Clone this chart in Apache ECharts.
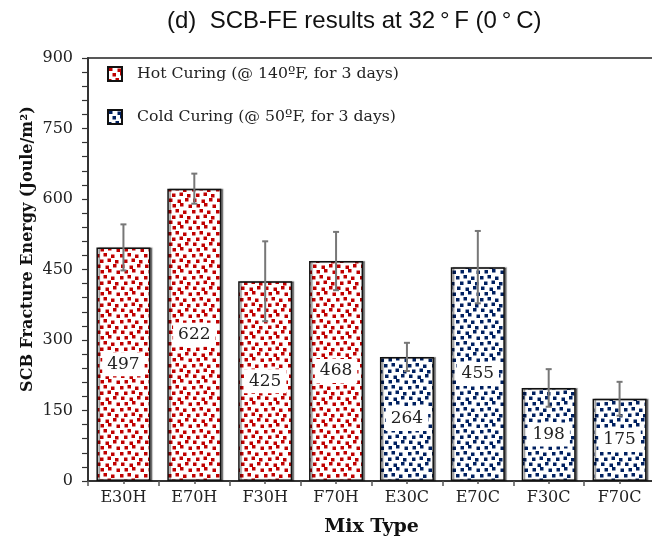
<!DOCTYPE html>
<html>
<head>
<meta charset="utf-8">
<script src="https://cdn.jsdelivr.net/npm/echarts@6/dist/echarts.min.js"></script>
<style>
  html, body { margin: 0; padding: 0; background: #fff; }
  #chart { width: 652px; height: 541px; }
</style>
</head>
<body>
<div id="chart"></div>
<script>
// Mix types and SCB fracture energy results (Joule/m²)
const mixTypes = ['E30H', 'E70H', 'F30H', 'F70H', 'E30C', 'E70C', 'F30C', 'F70C'];
const hotValues  = [497, 622, 425, 468, '-', '-', '-', '-'];
const coldValues = ['-', '-', '-', '-', 264, 455, 198, 175];
// Standard deviation shown as error bars
const errValues  = [49, 32, 85, 62, 30, 77, 40, 36];
const yTicks = { min: 0, max: 900, interval: 150 };
const hotName  = 'Hot Curing (@ 140ºF, for 3 days)';
const coldName = 'Cold Curing (@ 50ºF, for 3 days)';

const SERIF = '"DejaVu Serif", "Liberation Serif", serif';

// Confetti-style fill pattern: small jittered squares on white
function confetti(color) {
  const c = document.createElement('canvas');
  c.width = 24; c.height = 22;
  const ctx = c.getContext('2d');
  ctx.fillStyle = '#ffffff';
  ctx.fillRect(0, 0, 24, 22);
  ctx.fillStyle = color;
  const spots = [
    [1, 0.5], [9.5, 1.5], [17, 0],
    [4.5, 6], [12, 5], [20.5, 6.5],
    [0, 12], [7.5, 11], [15, 12.5],
    [4, 17.5], [11.5, 16.5], [19, 18]
  ];
  spots.forEach(([x, y]) => ctx.fillRect(x, y, 3.5, 3.5));
  return { image: c, repeat: 'repeat' };
}

const barStyle = (fill) => ({
  color: fill,
  borderColor: '#111',
  borderWidth: 1.5,
  shadowColor: 'rgba(0,0,0,0.45)',
  shadowOffsetX: 2,
  shadowOffsetY: 0,
  shadowBlur: 1
});

const labelStyle = {
  show: true,
  position: 'inside',
  formatter: '{c}',
  backgroundColor: '#ffffff',
  padding: [4, 5, 3, 5],
  fontFamily: SERIF,
  fontSize: 17,
  color: '#222'
};

const errData = mixTypes.map((m, i) => {
  const v = hotValues[i] !== '-' ? hotValues[i] : coldValues[i];
  return [i, v, errValues[i]];
});

const chart = echarts.init(document.getElementById('chart'));
chart.setOption({
  animation: false,
  backgroundColor: '#ffffff',
  title: {
    text: '(d)  SCB-FE results at 32\u2009°\u2009F (0\u2009°\u2009C)',
    left: 162,
    top: 4,
    textStyle: { fontFamily: '"Liberation Sans", Arial, sans-serif', fontWeight: 'normal', fontSize: 24, color: '#111' }
  },
  legend: {
    orient: 'vertical',
    left: 102,
    top: 61,
    itemWidth: 14,
    itemHeight: 14,
    itemGap: 27,
    icon: 'rect',
    data: [hotName, coldName],
    textStyle: { fontFamily: SERIF, fontSize: 15.7, color: '#222', padding: [0, 0, 0, 10] }
  },
  grid: {
    left: 88, top: 58, width: 567, height: 423,
    outerBoundsMode: 'none',
    containLabel: false,
    show: true, borderColor: '#222', borderWidth: 1.5, backgroundColor: 'transparent'
  },
  graphic: [{
    type: 'text',
    x: 28, y: 249,
    rotation: Math.PI / 2,
    style: {
      text: 'SCB Fracture Energy (Joule/m²)',
      font: 'bold 16px ' + SERIF,
      fill: '#111',
      align: 'center',
      verticalAlign: 'middle'
    }
  }],
  xAxis: [{
    type: 'category',
    data: mixTypes,
    name: 'Mix Type',
    nameLocation: 'middle',
    nameGap: 37,
    nameTextStyle: { fontFamily: SERIF, fontWeight: 'bold', fontSize: 19, color: '#111' },
    axisLine: { lineStyle: { color: '#333', width: 2 } },
    axisTick: { show: true, length: 5, lineStyle: { color: '#555', width: 1.5 } },
    axisLabel: { fontFamily: SERIF, fontSize: 16, color: '#222', margin: 9 }
  }, {
    type: 'category',
    data: mixTypes,
    position: 'bottom',
    axisLine: { show: false },
    axisTick: { show: true, alignWithLabel: true, length: 3, lineStyle: { color: '#555', width: 1.5 } },
    axisLabel: { show: false }
  }],
  yAxis: {
    type: 'value',
    min: yTicks.min, max: yTicks.max, interval: yTicks.interval,
    axisLine: { show: true, lineStyle: { color: '#333', width: 2 } },
    axisTick: { show: true, length: 6, lineStyle: { color: '#333', width: 1.2 } },
    minorTick: { show: true, splitNumber: 5, length: 6, lineStyle: { color: '#333', width: 1.2 } },
    splitLine: { show: false },
    axisLabel: { fontFamily: SERIF, fontSize: 16, color: '#222', margin: 15 }
  },
  series: [{
    name: hotName,
    type: 'bar',
    data: hotValues,
    barWidth: 54,
    barGap: '-100%',
    itemStyle: barStyle(confetti('#c00000')),
    label: labelStyle
  }, {
    name: coldName,
    type: 'bar',
    data: coldValues,
    barWidth: 54,
    barGap: '-100%',
    itemStyle: barStyle(confetti('#002060')),
    label: labelStyle
  }, {
    type: 'custom',
    name: 'error',
    data: errData,
    encode: { x: 0, y: 1 },
    z: 10,
    renderItem: function (params, api) {
      const i = api.value(0), v = api.value(1), e = api.value(2);
      const top = api.coord([i, v + e]);
      const bot = api.coord([i, v - e]);
      const style = { stroke: '#777', lineWidth: 2 };
      return {
        type: 'group',
        children: [
          { type: 'line', shape: { x1: top[0], y1: top[1], x2: bot[0], y2: bot[1] }, style },
          { type: 'line', shape: { x1: top[0] - 3, y1: top[1], x2: top[0] + 3, y2: top[1] }, style },
          { type: 'line', shape: { x1: bot[0] - 3, y1: bot[1], x2: bot[0] + 3, y2: bot[1] }, style }
        ]
      };
    }
  }]
});
</script>
</body>
</html>
